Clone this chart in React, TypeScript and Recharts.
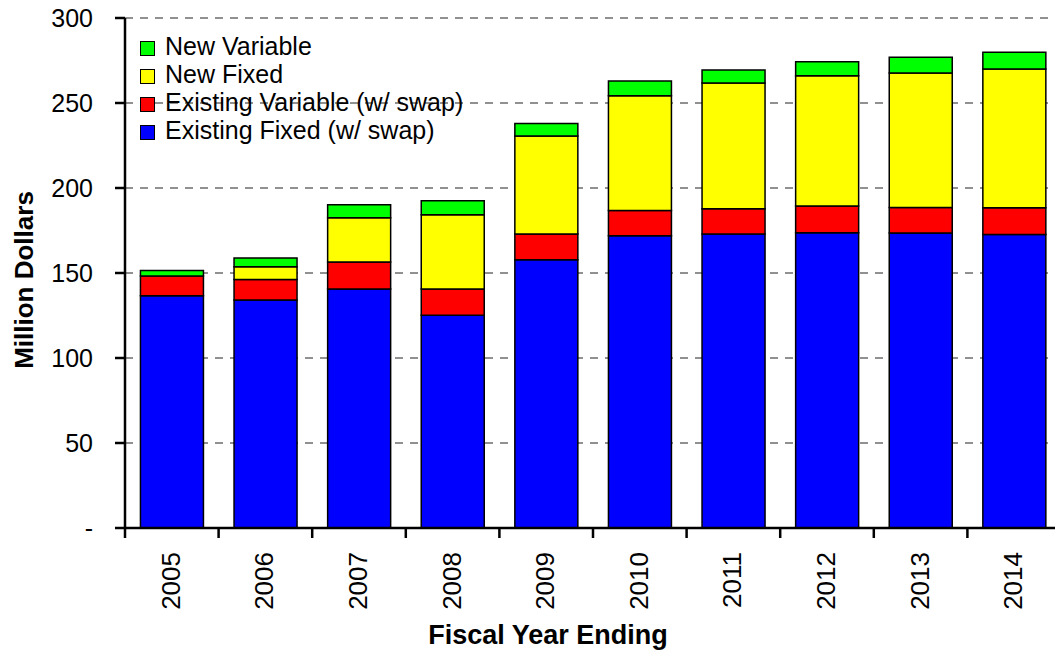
import React from 'react';
import { BarChart, Bar, XAxis, YAxis, CartesianGrid, Legend } from 'recharts';

// Fiscal years on the category axis
const years = ['2005', '2006', '2007', '2008', '2009', '2010', '2011', '2012', '2013', '2014'];

// Stacked components, million dollars (bottom to top)
const existingFixed = [136.6, 134.1, 140.6, 125.1, 157.8, 171.9, 172.9, 173.7, 173.5, 172.7];
const existingVariable = [11.6, 12.1, 15.9, 15.5, 15.1, 14.9, 14.9, 15.7, 15.1, 15.7];
const newFixed = [0, 7.5, 26.0, 43.7, 57.7, 67.5, 74.0, 76.7, 79.0, 81.6];
const newVariable = [3.2, 5.1, 7.7, 8.2, 7.4, 8.6, 7.6, 8.2, 9.3, 9.9];

const yTicks = [0, 50, 100, 150, 200, 250, 300];

const data = years.map((year, i) => ({
  year,
  existingFixed: existingFixed[i],
  existingVariable: existingVariable[i],
  newFixed: newFixed[i],
  newVariable: newVariable[i],
}));

const FONT = '"Liberation Sans", Arial, sans-serif';

// chart geometry
const CHART_W = 1075;
const CHART_H = 652;
const MARGIN = { top: 18, right: 14, left: 25, bottom: 0 };
const Y_AXIS_W = 100;
const BAND = (CHART_W - MARGIN.left - MARGIN.right - Y_AXIS_W) / years.length;

const series = [
  { key: 'existingFixed', name: 'Existing Fixed (w/ swap)', color: '#0000ff' },
  { key: 'existingVariable', name: 'Existing Variable (w/ swap)', color: '#ff0000' },
  { key: 'newFixed', name: 'New Fixed', color: '#ffff00' },
  { key: 'newVariable', name: 'New Variable', color: '#00ff00' },
];

const XTick = ({ x, y, payload, index }: any) => (
  <g>
    <line x1={x - BAND / 2} x2={x - BAND / 2} y1={y} y2={y + 10} stroke="#000" strokeWidth={2.5} />
    {index === years.length - 1 && (
      <line x1={x + BAND / 2} x2={x + BAND / 2} y1={y} y2={y + 10} stroke="#000" strokeWidth={2.5} />
    )}
    <text
      x={0}
      y={0}
      transform={`translate(${x + 8},${y + 24}) rotate(-90)`}
      textAnchor="end"
      fontSize={26}
      fontFamily={FONT}
      fill="#000"
    >
      {payload.value}
    </text>
  </g>
);

const LegendBox = () => (
  <div style={{ fontFamily: FONT, fontSize: 25, color: '#000' }}>
    {[...series].reverse().map((s) => (
      <div key={s.key} style={{ display: 'flex', alignItems: 'center', whiteSpace: 'nowrap', height: 28 }}>
        <span
          style={{
            display: 'inline-block',
            width: 13,
            height: 13,
            background: s.color,
            border: '1.5px solid #000',
            marginRight: 10,
            position: 'relative',
            top: 2,
          }}
        />
        <span style={{ lineHeight: '28px' }}>{s.name}</span>
      </div>
    ))}
  </div>
);

export default function App() {
  return (
    <div
      style={{
        position: 'fixed',
        left: 0,
        top: 0,
        width: 1055,
        height: 652,
        overflow: 'hidden',
        background: '#fff',
      }}
    >
      <BarChart width={CHART_W} height={CHART_H} data={data} margin={MARGIN} barCategoryGap="16.5%">
        <CartesianGrid vertical={false} strokeDasharray="8 7" stroke="#222" strokeWidth={1} />
        <XAxis
          dataKey="year"
          height={124}
          axisLine={{ stroke: '#000', strokeWidth: 2.5 }}
          tickLine={false}
          tickSize={0}
          tickMargin={0}
          tick={<XTick />}
          interval={0}
          label={{
            content: () => (
              <text x={548} y={644} textAnchor="middle" fontSize={27} fontWeight="bold" fontFamily={FONT} fill="#000">
                Fiscal Year Ending
              </text>
            ),
          }}
        />
        <YAxis
          width={Y_AXIS_W}
          domain={[0, 300]}
          ticks={yTicks}
          interval={0}
          axisLine={{ stroke: '#000', strokeWidth: 2.5 }}
          tickLine={{ stroke: '#000', strokeWidth: 2.5 }}
          tickSize={10}
          tickMargin={22}
          tickFormatter={(v: number) => (v === 0 ? '-' : String(v))}
          tick={{ fontSize: 25, fontFamily: FONT, fill: '#000' }}
          label={{
            content: () => (
              <text
                x={0}
                y={0}
                transform="translate(33,280) rotate(-90)"
                textAnchor="middle"
                fontSize={26}
                fontWeight="bold"
                fontFamily={FONT}
                fill="#000"
              >
                Million Dollars
              </text>
            ),
          }}
        />
        <Legend
          layout="horizontal"
          verticalAlign="middle"
          align="center"
          content={<LegendBox />}
          wrapperStyle={{ top: 32, left: 140, width: 'auto', height: 'auto' }}
        />
        {series.map((s) => (
          <Bar
            key={s.key}
            dataKey={s.key}
            name={s.name}
            stackId="a"
            fill={s.color}
            stroke="#000"
            strokeWidth={1.5}
            isAnimationActive={false}
          />
        ))}
      </BarChart>
    </div>
  );
}
